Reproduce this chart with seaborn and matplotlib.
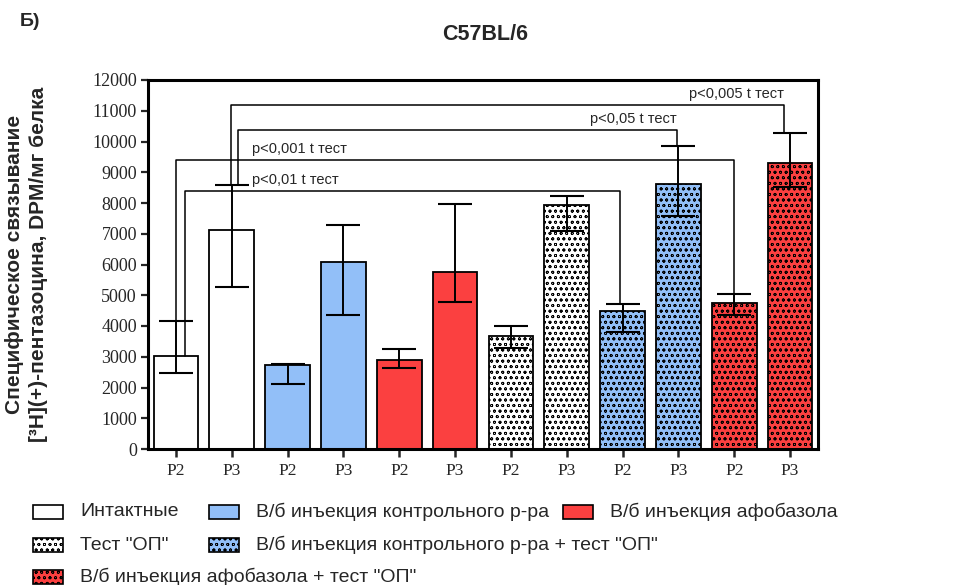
#!/usr/bin/env python3
"""Specific [3H](+)-pentazocine binding in C57BL/6 mice, P2 / P3 fractions."""

import matplotlib

matplotlib.use("Agg")

import matplotlib.pyplot as plt
import pandas as pd
import seaborn as sns
from matplotlib.patches import Rectangle


# --- data --------------------------------------------------------------------
ages = ["P2", "P3"] * 6
group_of_bar = [0, 0, 1, 1, 2, 2, 3, 3, 4, 4, 5, 5]
means = [3020, 7120, 2720, 6080, 2890, 5750, 3670, 7930, 4490, 8620, 4750, 9300]
upper = [4160, 8590, 2780, 7280, 3250, 7970, 4000, 8230, 4700, 9850, 5040, 10280]
lower = [2470, 5270, 2100, 4360, 2630, 4780, 3280, 7090, 3820, 7580, 4360, 8520]

group_labels = [
    "Интактные",
    "В/б инъекция контрольного р-ра",
    "В/б инъекция афобазола",
    'Тест "ОП"',
    'В/б инъекция контрольного р-ра + тест "ОП"',
    'В/б инъекция афобазола + тест "ОП"',
]
group_colors = ["#ffffff", "#92bff8", "#fb4040", "#ffffff", "#92bff8", "#fb4040"]
group_hatches = [None, None, None, "ooo", "ooo", "ooo"]

# significance brackets: left bar, right bar, bracket height, label
bracket_left = [0, 0, 1, 1]
bracket_right = [8, 10, 9, 11]
bracket_height = [8400, 9400, 10380, 11200]
bracket_labels = ["p<0,01 t тест", "p<0,001 t тест", "p<0,05 t тест", "p<0,005 t тест"]

y_ticks = list(range(0, 12001, 1000))

SANS = ["Liberation Sans", "DejaVu Sans"]
SERIF = ["Liberation Serif", "DejaVu Serif"]


def main() -> int:
    sns.set_theme(style="white")
    plt.rcParams["font.family"] = SANS
    plt.rcParams["hatch.linewidth"] = 0.55
    plt.rcParams["hatch.color"] = "black"

    df = pd.DataFrame(
        {
            "bar": [f"b{i:02d}" for i in range(len(means))],
            "mean": means,
        }
    )
    palette = {name: group_colors[g] for name, g in zip(df["bar"], group_of_bar)}

    fig = plt.figure(figsize=(9.54, 5.85), dpi=100)
    ax = fig.add_axes([148 / 954, 1 - 449 / 585, 670 / 954, 369 / 585])

    sns.barplot(
        data=df,
        x="bar",
        y="mean",
        hue="bar",
        palette=palette,
        legend=False,
        errorbar=None,
        width=0.8,
        edgecolor="black",
        linewidth=1.3,
        saturation=1,
        ax=ax,
    )
    for patch, g in zip(ax.patches, group_of_bar):
        if group_hatches[g]:
            patch.set_hatch(group_hatches[g])

    xs = list(range(len(means)))
    yerr = [
        [m - lo for m, lo in zip(means, lower)],
        [hi - m for m, hi in zip(means, upper)],
    ]
    ax.errorbar(
        xs, means, yerr=yerr, fmt="none", ecolor="black",
        elinewidth=1.4, capsize=12, capthick=1.5, zorder=5,
    )

    # brackets
    leg_bottom_left = [means[0], upper[0], upper[1], upper[1]]
    leg_bottom_right = [upper[8], upper[10], upper[9], upper[11]]
    off_left = [0.16, 0.0, 0.11, -0.02]
    off_right = [-0.04, 0.0, -0.02, -0.1]
    for i in range(len(bracket_labels)):
        xl = bracket_left[i] + off_left[i]
        xr = bracket_right[i] + off_right[i]
        h = bracket_height[i]
        ax.plot(
            [xl, xl, xr, xr],
            [leg_bottom_left[i], h, h, leg_bottom_right[i]],
            color="black", linewidth=1.1, zorder=6,
        )
        if i < 2:
            ax.text(1.37, h + 120, bracket_labels[i], ha="left", va="bottom",
                    fontsize=10.5, family=SANS)
        else:
            ax.text(xr - 0.02, h + 120, bracket_labels[i], ha="right", va="bottom",
                    fontsize=10.5, family=SANS)

    ax.set_xlim(-0.5, len(means) - 0.5)
    ax.set_ylim(0, 12000)
    ax.set_yticks(y_ticks)
    ax.set_yticklabels([str(t) for t in y_ticks], family=SERIF, fontsize=13)
    ax.set_xticks(xs)
    ax.set_xticklabels(ages, family=SERIF, fontsize=12.5)
    ax.set_xlabel("")
    ax.set_ylabel(
        "Специфическое связывание\n[³H](+)-пентазоцина, DPM/мг белка",
        fontsize=15, fontweight="bold", linespacing=1.3, labelpad=32,
    )
    for spine in ax.spines.values():
        spine.set_visible(True)
        spine.set_linewidth(2.2)
        spine.set_color("black")
    ax.tick_params(axis="y", direction="out", length=5, width=1.6, pad=3, left=True)
    ax.tick_params(axis="x", direction="out", length=6, width=1.8, pad=4, bottom=True)

    fig.text(485 / 954, 1 - 34 / 585, "C57BL/6", ha="center", va="center",
             fontsize=15.5, fontweight="bold")
    fig.text(20 / 954, 1 - 21 / 585, "Б)", ha="left", va="center",
             fontsize=14, fontweight="bold")

    # legend, laid out as in the reference
    box_x = [33, 209, 563, 33, 209, 33]
    row_y = [512, 512, 512, 545, 545, 577]
    for g, label in enumerate(group_labels):
        x0, yc = box_x[g], row_y[g]
        fig.add_artist(
            Rectangle(
                (x0 / 954, 1 - (yc + 7) / 585), 30 / 954, 14 / 585,
                transform=fig.transFigure, facecolor=group_colors[g],
                edgecolor="black", linewidth=1.2, hatch=group_hatches[g],
            )
        )
        fig.text((x0 + 47) / 954, 1 - yc / 585, label, ha="left", va="center",
                 fontsize=14)

    fig.savefig("out.png", dpi=100)
    plt.close(fig)
    return 0


if __name__ == "__main__":
    raise SystemExit(main())
